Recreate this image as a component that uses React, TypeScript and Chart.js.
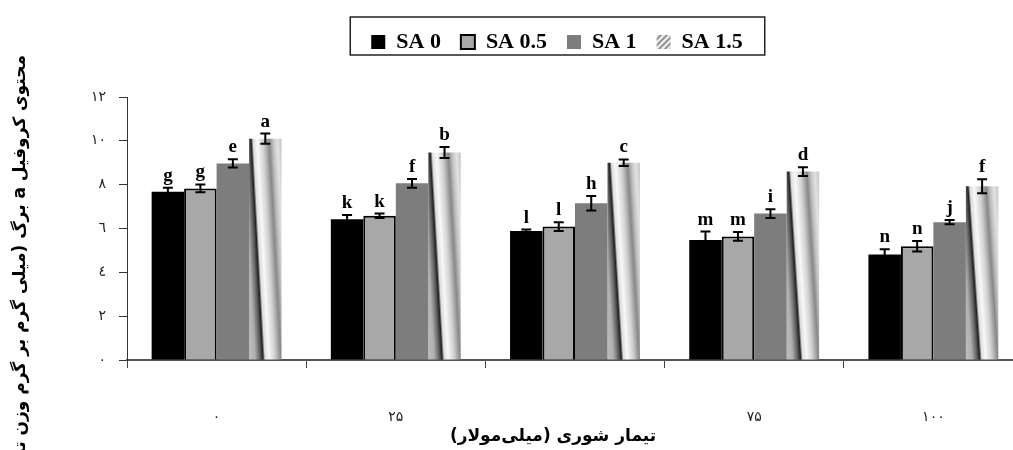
import React, { useEffect, useRef } from "react";
import { Chart, registerables } from "chart.js";

Chart.register(...registerables);

const categories = ["۰", "۲۵", "۵۰", "۷۵", "۱۰۰"];
const hiddenTickIndex = 2;
const yTickLabels = ["٠", "٢", "٤", "٦", "٨", "١٠", "١٢"];
const seriesNames = ["SA 0", "SA 0.5", "SA 1", "SA 1.5"];

const sa0 = [7.68, 6.42, 5.89, 5.47, 4.81];
const sa05 = [7.83, 6.58, 6.09, 5.64, 5.19];
const sa1 = [8.97, 8.06, 7.15, 6.68, 6.29];
const sa15 = [10.1, 9.47, 9.0, 8.6, 7.93];

const err0 = [0.18, 0.2, 0.06, 0.39, 0.24];
const err05 = [0.18, 0.1, 0.2, 0.2, 0.24];
const err1 = [0.19, 0.2, 0.33, 0.2, 0.1];
const err15 = [0.23, 0.25, 0.15, 0.2, 0.32];

const letters0 = ["g", "k", "l", "m", "n"];
const letters05 = ["g", "k", "l", "m", "n"];
const letters1 = ["e", "f", "h", "i", "j"];
const letters15 = ["a", "b", "c", "d", "f"];

const yTitle = "محتوی کروفیل a برگ (میلی گرم بر گرم وزن تر)";
const xTitle = "تیمار شوری (میلی‌مولار)";

const CAT_PCT = 0.725;

function makeStripePattern(): CanvasPattern | string {
  const c = document.createElement("canvas");
  c.width = 6;
  c.height = 6;
  const g = c.getContext("2d");
  if (!g) return "#bbb";
  g.fillStyle = "#e8e8e8";
  g.fillRect(0, 0, 6, 6);
  g.strokeStyle = "#8a8a8a";
  g.lineWidth = 1.6;
  g.beginPath();
  g.moveTo(-1, 7);
  g.lineTo(7, -1);
  g.moveTo(-4, 4);
  g.lineTo(4, -4);
  g.moveTo(2, 10);
  g.lineTo(10, 2);
  g.stroke();
  const p = g.createPattern(c, "repeat");
  return p || "#bbb";
}

const hatchStops: [number, string][] = [
  [-10, "#c8c8c8"],
  [0, "#b0b0b0"],
  [5, "#626262"],
  [8, "#222222"],
  [10, "#dcdcdc"],
  [14, "#f8f8f8"],
  [20, "#d0d0d0"],
  [26, "#888888"],
  [30, "#c2c2c2"],
  [34, "#e2e2e2"],
  [42, "#acacac"],
];

function hatchFill(ctx: any): any {
  const chart = ctx.chart;
  const xs = chart.scales?.x;
  const ys = chart.scales?.y;
  if (ctx.type !== "data" || !xs || !ys || !chart.chartArea) return "#c4c4c4";
  const i = ctx.dataIndex;
  const v = sa15[i];
  const center = xs.getPixelForValue(i);
  const catW = xs.width / categories.length;
  const groupW = catW * CAT_PCT;
  const barW = groupW / 4;
  const xL = center - groupW / 2 + 3 * barW;
  const top = ys.getPixelForValue(v);
  const bottom = ys.getPixelForValue(0);
  const h = Math.max(1, bottom - top);
  const s = 12;
  const mid = (top + bottom) / 2;
  const L2 = h * h + s * s;
  const u0 = hatchStops[0][0];
  const u1 = hatchStops[hatchStops.length - 1][0];
  const span = u1 - u0;
  const x0 = xL + u0;
  const y0 = mid;
  const x1 = x0 + (span * h * h) / L2;
  const y1 = y0 - (span * h * s) / L2;
  const g = chart.ctx.createLinearGradient(x0, y0, x1, y1);
  hatchStops.forEach(([u, c]) => g.addColorStop((u - u0) / span, c));
  return g;
}

const legendSpacer = {
  id: "legendSpacer",
  afterInit(chart: any) {
    const lg = chart.legend;
    if (lg && !lg.__spaced) {
      const orig = lg.fit.bind(lg);
      lg.fit = function () {
        orig();
        this.height += 34;
      };
      lg.__spaced = true;
    }
  },
};

const errorLetterPlugin = {
  id: "errorLetters",
  afterDatasetsDraw(chart: any) {
    const ctx = chart.ctx;
    const ys = chart.scales.y;
    const vals = [sa0, sa05, sa1, sa15];
    const errs = [err0, err05, err1, err15];
    const lets = [letters0, letters05, letters1, letters15];
    ctx.save();
    vals.forEach((arr, di) => {
      const meta = chart.getDatasetMeta(di);
      meta.data.forEach((bar: any, i: number) => {
        const x = bar.x;
        const hi = ys.getPixelForValue(arr[i] + errs[di][i]);
        const lo = ys.getPixelForValue(arr[i] - errs[di][i]);
        ctx.strokeStyle = "#000";
        ctx.lineWidth = 2;
        ctx.beginPath();
        ctx.moveTo(x, hi);
        ctx.lineTo(x, lo);
        ctx.moveTo(x - 5, hi);
        ctx.lineTo(x + 5, hi);
        ctx.moveTo(x - 5, lo);
        ctx.lineTo(x + 5, lo);
        ctx.stroke();
        ctx.fillStyle = "#000";
        ctx.font = "bold 19px 'Liberation Serif'";
        ctx.textAlign = "center";
        ctx.textBaseline = "alphabetic";
        ctx.fillText(lets[di][i], x, hi - 7);
      });
    });
    ctx.restore();
  },
};

const titlesPlugin = {
  id: "customTitles",
  afterDraw(chart: any) {
    const ctx = chart.ctx;
    ctx.save();
    ctx.fillStyle = "#000";
    ctx.translate(21, 55);
    ctx.rotate(-Math.PI / 2);
    ctx.direction = "rtl";
    ctx.font = "bold 17px 'DejaVu Sans'";
    ctx.textAlign = "right";
    ctx.textBaseline = "middle";
    ctx.fillText(yTitle, 0, 0);
    ctx.restore();
    ctx.save();
    ctx.direction = "rtl";
    ctx.fillStyle = "#000";
    ctx.font = "bold 17px 'DejaVu Sans'";
    ctx.textAlign = "center";
    ctx.textBaseline = "middle";
    ctx.fillText(xTitle, 553, 437);
    ctx.restore();
    const lg = chart.legend;
    if (lg && lg.legendHitBoxes && lg.legendHitBoxes.length) {
      const hb = lg.legendHitBoxes;
      const left = Math.min(...hb.map((b: any) => b.left)) - 21;
      const right = Math.max(...hb.map((b: any) => b.left + b.width)) + 22;
      ctx.save();
      ctx.strokeStyle = "#222";
      ctx.lineWidth = 1.5;
      ctx.strokeRect(left, 17, right - left, 38);
      ctx.restore();
    }
  },
};

export default function App() {
  const ref = useRef<HTMLCanvasElement | null>(null);
  useEffect(() => {
    document.body.style.margin = "0";
    document.body.style.overflow = "hidden";
    if (!ref.current) return;
    const stripe = makeStripePattern();
    const legendFills = ["#000000", "#a8a8a8", "#7d7d7d", stripe];
    const chart = new Chart(ref.current, {
      type: "bar",
      data: {
        labels: categories,
        datasets: [
          { label: seriesNames[0], data: sa0, backgroundColor: "#000000", borderWidth: 0 },
          { label: seriesNames[1], data: sa05, backgroundColor: "#a8a8a8", borderColor: "#000", borderWidth: 2 },
          { label: seriesNames[2], data: sa1, backgroundColor: "#7d7d7d", borderWidth: 0 },
          { label: seriesNames[3], data: sa15, backgroundColor: hatchFill as any, borderWidth: 0 },
        ],
      },
      options: {
        responsive: false,
        animation: false,
        events: [],
        datasets: { bar: { categoryPercentage: CAT_PCT, barPercentage: 1 } },
        layout: { padding: { left: 91, right: 0, top: 11, bottom: 0 } },
        plugins: {
          tooltip: { enabled: false },
          legend: {
            position: "top",
            labels: {
              boxWidth: 14,
              boxHeight: 14,
              padding: 20,
              color: "#000",
              font: { family: "'Liberation Serif'", size: 22, weight: "bold" },
              generateLabels: () =>
                seriesNames.map((n, i) => ({
                  text: n,
                  fillStyle: legendFills[i] as any,
                  strokeStyle: "#000",
                  lineWidth: i === 1 ? 2 : 0,
                  hidden: false,
                  datasetIndex: i,
                })),
            },
          },
        },
        scales: {
          x: {
            grid: { offset: true, drawOnChartArea: false, drawTicks: true, tickLength: 8, color: "#444" },
            border: { color: "#555", width: 2 },
            ticks: {
              padding: 41,
              color: "#222",
              font: { family: "'DejaVu Sans'", size: 14 },
              callback: (_v: any, i: number) => (i === hiddenTickIndex ? "" : categories[i]),
            },
            afterFit: (s: any) => {
              s.height = 90;
            },
          },
          y: {
            min: 0,
            max: 12,
            grid: { drawOnChartArea: false, drawTicks: true, tickLength: 8, color: "#333" },
            border: { color: "#333", width: 1 },
            ticks: {
              stepSize: 2,
              padding: 13,
              color: "#222",
              font: { family: "'DejaVu Sans'", size: 14 },
              callback: (_v: any, i: number) => yTickLabels[i],
            },
            afterFit: (s: any) => {
              s.width = 36;
            },
          },
        },
      },
      plugins: [legendSpacer, errorLetterPlugin, titlesPlugin],
    });
    return () => chart.destroy();
  }, []);
  return (
    <div style={{ width: 1013, height: 450, overflow: "hidden" }}>
      <canvas ref={ref} width={1023} height={450} style={{ width: 1023, height: 450, display: "block" }} />
    </div>
  );
}
